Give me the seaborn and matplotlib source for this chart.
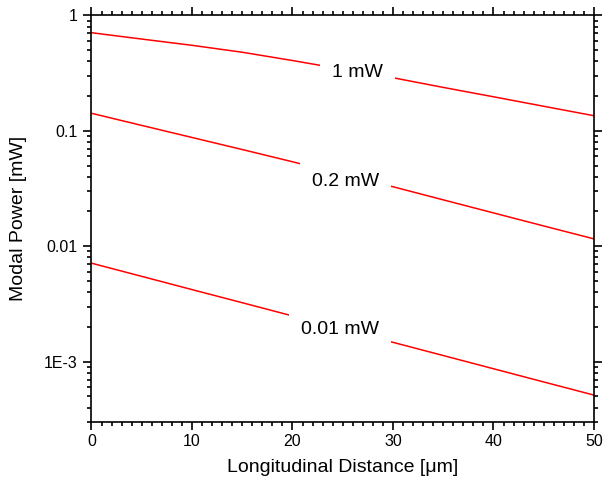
import numpy as np
import pandas as pd
import matplotlib
matplotlib.use("Agg")
import matplotlib.pyplot as plt
import matplotlib.ticker as mticker
import seaborn as sns

# ---- data ----
distance_um = [0, 5, 10, 15, 20, 25, 30, 35, 40, 45, 50]
power_1mW = [0.707, 0.623, 0.550, 0.479, 0.406, 0.341, 0.288, 0.2375, 0.197, 0.163, 0.135]
power_02mW = [0.1417, 0.1113, 0.0875, 0.0688, 0.0539, 0.0420, 0.03275, 0.02522, 0.01943, 0.01498, 0.01157]
power_001mW = [0.00713, 0.00548, 0.00421, 0.00324, 0.00249, 0.00191, 0.00147, 0.00113, 0.000868, 0.000667, 0.000513]

series_labels = ["1 mW", "0.2 mW", "0.01 mW"]
label_x = [26.47, 25.27, 24.73]
label_y = [0.334, 0.0377, 0.00196]

y_tick_values = [1e-3, 1e-2, 0.1, 1]
y_tick_labels = ["1E-3", "0.01", "0.1", "1"]
x_tick_values = [0, 10, 20, 30, 40, 50]

x_label = "Longitudinal Distance [\u03bcm]"
y_label = "Modal Power [mW]"

# ---- build long-form table ----
frames = []
for name, vals in zip(series_labels, [power_1mW, power_02mW, power_001mW]):
    frames.append(pd.DataFrame({"x": distance_um, "y": vals, "series": name}))
df = pd.concat(frames, ignore_index=True)

sns.set_style("ticks")
plt.rcParams["font.family"] = ["Liberation Sans", "DejaVu Sans"]
plt.rcParams["text.color"] = "black"
plt.rcParams["axes.labelcolor"] = "black"
plt.rcParams["xtick.color"] = "black"
plt.rcParams["ytick.color"] = "black"

fig = plt.figure(figsize=(6.03, 4.79), dpi=100)
ax = fig.add_axes([0.1517, 0.119, 0.985 - 0.1517, 0.968 - 0.119])

sns.lineplot(data=df, x="x", y="y", hue="series", palette=["#ff0000"] * 3,
             linewidth=1.1, legend=False, ax=ax, zorder=2)

ax.set_yscale("log")
ax.set_xlim(0, 50)
ax.set_ylim(3e-4, 1)

for lx, ly, lt in zip(label_x, label_y, series_labels):
    ax.text(lx, ly, lt, ha="center", va="center_baseline", fontsize=14,
            color="black", zorder=3,
            bbox=dict(boxstyle="square,pad=0.6", facecolor="white", edgecolor="none"))

ax.xaxis.set_major_locator(mticker.FixedLocator(x_tick_values))
ax.xaxis.set_minor_locator(mticker.MultipleLocator(1))
ax.yaxis.set_major_locator(mticker.FixedLocator(y_tick_values))
ax.yaxis.set_major_formatter(mticker.FixedFormatter(y_tick_labels))
ax.yaxis.set_minor_locator(mticker.LogLocator(base=10, subs=np.arange(2, 10), numticks=20))
ax.yaxis.set_minor_formatter(mticker.NullFormatter())

for s in ax.spines.values():
    s.set_visible(True)
    s.set_linewidth(1.2)
    s.set_color("black")

ax.tick_params(which="both", direction="out", top=True, right=True,
               labeltop=False, labelright=False, color="black",
               labelcolor="black", width=1.2)
ax.tick_params(which="major", length=6)
ax.tick_params(which="minor", length=3)
ax.tick_params(axis="x", which="major", labelsize=11.5, pad=3)
ax.tick_params(axis="y", which="major", labelsize=11.5, pad=4)

ax.set_xlabel(x_label, fontsize=14, labelpad=7)
ax.set_ylabel(y_label, fontsize=14, labelpad=12)
ax.grid(False)

fig.savefig("out.png", dpi=100, facecolor="white")
